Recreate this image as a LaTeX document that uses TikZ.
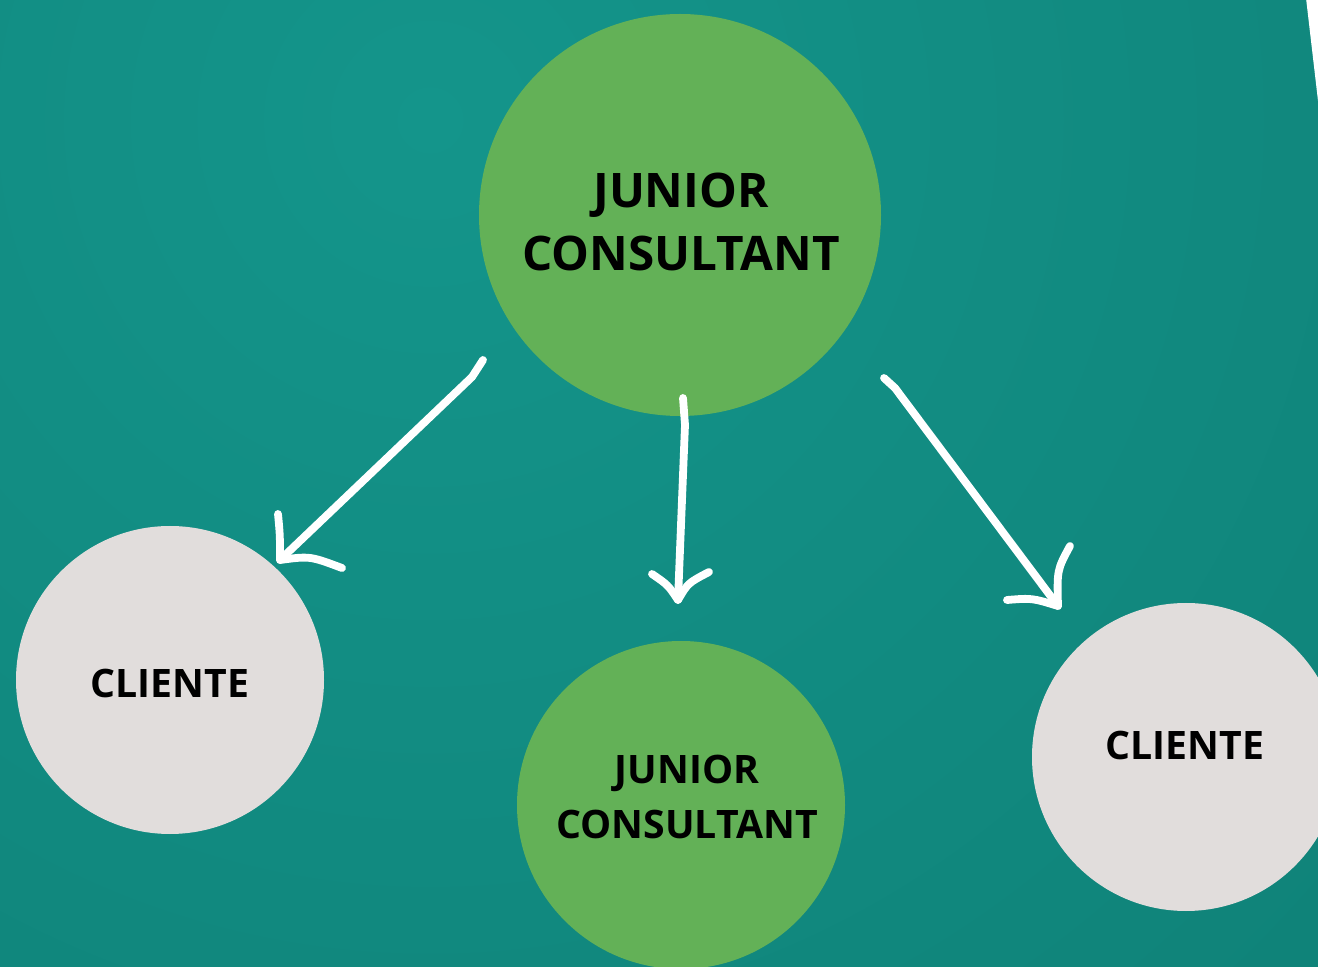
\documentclass[tikz,border=0pt]{standalone}
\usepackage{fontspec}
\setmainfont{Open Sans}
\definecolor{bgin}{HTML}{14958B}
\definecolor{bgout}{HTML}{0D7A70}
\definecolor{jgreen}{HTML}{63B157}
\definecolor{cgrey}{HTML}{E1DDDC}
\tikzset{
  disc/.style={circle, inner sep=0pt, draw=none},
  jc/.style={disc, fill=jgreen},
  cl/.style={disc, fill=cgrey},
  lbl/.style={align=center, text=black, inner sep=0pt, font=\bfseries},
  chalk/.style={draw=white, line width=3.9pt, line cap=round, line join=round},
}
\begin{document}
\begin{tikzpicture}[x=0.5pt, y=-0.5pt]
\useasboundingbox (0,0) rectangle (1318,967);
% background
\fill[bgout] (0,0) rectangle (1318,967);
\begin{scope}
\clip (0,0) rectangle (1318,967);
\shade[inner color=bgin, outer color=bgout] (430,120) circle (1800);
\fill[white] (1306,-2) -- (1320,-2) -- (1320,118) -- cycle;
\end{scope}
% circles
\begin{scope}
\clip (0,0) rectangle (1318,967);
\node[jc, minimum size=201pt] (top) at (680,215) {};
\node[cl, minimum size=154pt] (left) at (170,680) {};
\node[jc, minimum size=164pt] (mid) at (681,805) {};
\node[cl, minimum size=154pt] (right) at (1186,757) {};
\end{scope}
% texts
\node[lbl, font=\bfseries\fontsize{23.8}{31.5}\selectfont] (ttop) at (681,222) {JUNIOR\\CONSULTANT};
\node[lbl, font=\bfseries\fontsize{19.6}{27.5}\selectfont] (tmid) at (687,797) {JUNIOR\\CONSULTANT};
\node[lbl, font=\bfseries\fontsize{19.6}{23}\selectfont] (tleft) at (170,684) {CLIENTE};
\node[lbl, font=\bfseries\fontsize{19.6}{23}\selectfont] (tright) at (1185,745) {CLIENTE};
% arrow coordinates
\coordinate (a1s) at (483,360);
\coordinate (a1k) at (472,377);
\coordinate (a1t) at (280,560);
\coordinate (a1l) at (278,514);
\coordinate (a1r) at (342,568);
\coordinate (a2s) at (683,398);
\coordinate (a2k) at (685,425);
\coordinate (a2t) at (678,600);
\coordinate (a2l) at (652,574);
\coordinate (a2r) at (709,572);
\coordinate (a3s) at (884,378);
\coordinate (a3k) at (895,388);
\coordinate (a3t) at (1058,606);
\coordinate (a3l) at (1070,546);
\coordinate (a3r) at (1007,600);
% arrows
\draw[chalk] (a1s) -- (a1k) -- (a1t);
\draw[chalk] (a1l) .. controls (280,535) .. (a1t) .. controls (310,556) .. (a1r);
\draw[chalk] (a2s) -- (a2k) -- (a2t);
\draw[chalk] (a2l) .. controls (668,585) .. (a2t) .. controls (688,583) .. (a2r);
\draw[chalk] (a3s) -- (a3k) -- (a3t);
\draw[chalk] (a3l) .. controls (1057,570) .. (a3t) .. controls (1032,598) .. (a3r);
\end{tikzpicture}
\end{document}
